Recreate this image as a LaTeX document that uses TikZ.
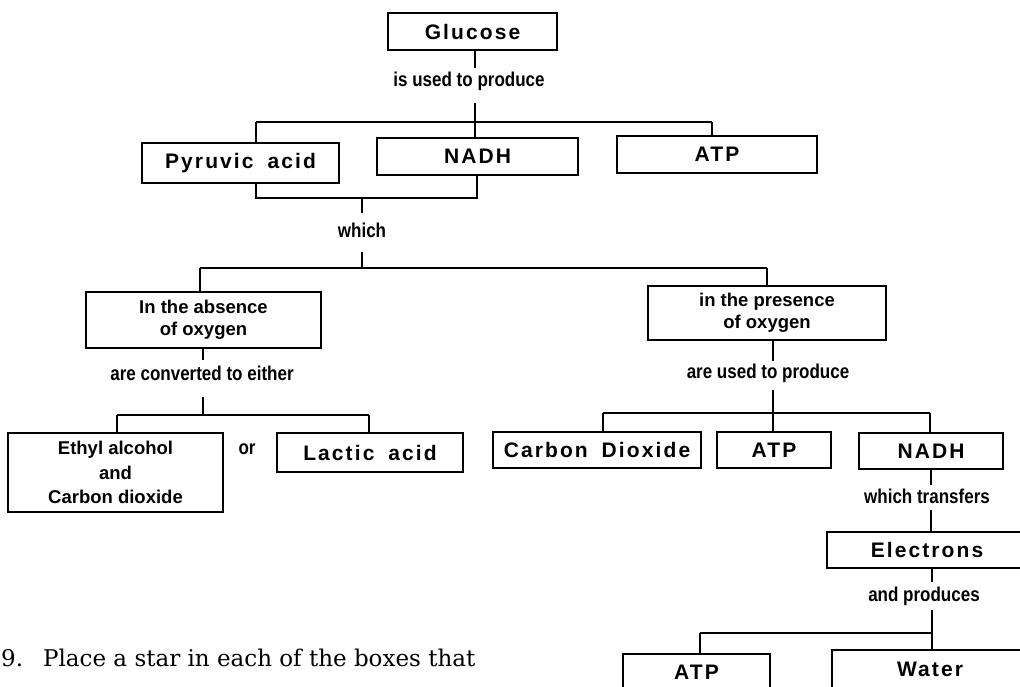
\documentclass[tikz,border=0pt]{standalone}
\usepackage{fontspec}
\setmainfont{Liberation Sans}
\newfontfamily\boxfam[LetterSpace=10]{Liberation Sans}
\newfontfamily\lblfam[FakeStretch=0.85]{Liberation Sans}
\newfontfamily\serfam{DejaVu Serif}
\begin{document}
\begin{tikzpicture}[x=1pt,y=-1pt,
  box/.style={draw, line width=1.4pt, inner sep=0pt, align=center,
    font=\boxfam\bfseries\fontsize{21}{23}\selectfont},
  tbox/.style={draw, line width=1.4pt, inner sep=0pt, align=center,
    font=\bfseries\fontsize{18.5}{22.5}\selectfont},
  lbl/.style={inner xsep=1pt, inner ysep=0pt, text height=14pt, text depth=4pt,
    anchor=base, font=\lblfam\bfseries\fontsize{20}{22}\selectfont},
  conn/.style={line width=1.4pt},
  qtext/.style={anchor=base west, inner sep=0pt, font=\serfam\fontsize{23}{26}\selectfont}
]
\useasboundingbox (0,0) rectangle (1020,686);

% ---- boxes ----
\node[box, minimum width=169pt, minimum height=37pt] (glucose) at (472.5,31.5) {Glucose};
\node[box, minimum width=197pt, minimum height=40pt] (pyr) at (240.5,163) {Pyruvic\hspace{6pt} acid};
\node[box, minimum width=201pt, minimum height=37pt] (nadh1) at (477.5,156.5) {NADH};
\node[box, minimum width=200pt, minimum height=37pt] (atp1) at (717,154.5) {ATP};
\node[tbox, minimum width=235pt, minimum height=56pt] (absent) at (203.5,320) {In the absence\\of oxygen};
\node[tbox, minimum width=238pt, minimum height=54pt] (present) at (767,313) {in the presence\\of oxygen};
\node[tbox, minimum width=215pt, minimum height=79pt, font=\bfseries\fontsize{18.5}{24.5}\selectfont] (ethyl) at (115.5,472.5) {Ethyl alcohol\\and\\Carbon dioxide};
\node[box, minimum width=186pt, minimum height=39pt] (lactic) at (370,452.5) {Lactic\hspace{6pt} acid};
\node[box, minimum width=208pt, minimum height=36pt] (co2) at (597,450) {Carbon\hspace{6pt} Dioxide};
\node[box, minimum width=114pt, minimum height=36pt] (atp2) at (774,450) {ATP};
\node[box, minimum width=144pt, minimum height=36pt] (nadh2) at (931,451) {NADH};
\node[box, minimum width=200pt, minimum height=36pt] (electrons) at (927,550) {Electrons};
\node[box, minimum width=147pt, minimum height=37pt] (atp3) at (696.5,672.5) {ATP};
\node[box, minimum width=196pt, minimum height=38pt] (water) at (930,669) {Water};

% ---- connector labels ----
\node[lbl] (l1) at (469,86) {is used to produce};
\node[lbl] (lw) at (362,237) {which};
\node[lbl] (la) at (202,380) {are converted to either};
\node[lbl] (lp) at (768,378) {are used to produce};
\node[lbl] (lor) at (247,454) {or};
\node[lbl] (lt) at (927,503) {which transfers};
\node[lbl] (lap) at (924,601) {and produces};

% ---- junction coordinates ----
\coordinate (v1) at (475,0);
\coordinate (h1L) at (256,122);
\coordinate (h1R) at (712,122);
\coordinate (b1L) at (256,198);
\coordinate (b1R) at (477,198);
\coordinate (w0) at (362,198);
\coordinate (h2M) at (362,268);
\coordinate (h2L) at (200,268);
\coordinate (h2R) at (767,268);
\coordinate (va) at (203,0);
\coordinate (h3M) at (203,415);
\coordinate (h3L) at (117,415);
\coordinate (h3R) at (369,415);
\coordinate (vp) at (773,0);
\coordinate (h4M) at (773,413);
\coordinate (h4L) at (603,413);
\coordinate (h4R) at (930,413);
\coordinate (vn) at (931,0);
\coordinate (h5M) at (932,633);
\coordinate (h5L) at (700,633);

% ---- connectors ----
\draw[conn, shorten >=4pt] (v1 |- glucose.south) -- (v1 |- l1.north);
\draw[conn, shorten <=13pt] (v1 |- l1.south) -- (v1 |- nadh1.north);
\draw[conn] (h1L) -- (h1R);
\draw[conn] (h1L) -- (h1L |- pyr.north);
\draw[conn] (h1R) -- (h1R |- atp1.north);

\draw[conn] (b1L |- pyr.south) -- (b1L) -- (b1R) -- (b1R |- nadh1.south);
\draw[conn, shorten >=10pt] (w0) -- (lw.north);
\draw[conn, shorten <=11pt] (lw.south) -- (h2M);
\draw[conn] (h2L) -- (h2R);
\draw[conn] (h2L) -- (h2L |- absent.north);
\draw[conn] (h2R) -- (h2R |- present.north);

\draw[conn, shorten >=6pt] (va |- absent.south) -- (va |- la.north);
\draw[conn, shorten <=13pt] (va |- la.south) -- (h3M);
\draw[conn] (h3L) -- (h3R);
\draw[conn] (h3L) -- (h3L |- ethyl.north);
\draw[conn] (h3R) -- (h3R |- lactic.north);

\draw[conn, shorten >=3pt] (vp |- present.south) -- (vp |- lp.north);
\draw[conn, shorten <=8pt] (vp |- lp.south) -- (h4M);
\draw[conn] (h4L) -- (h4R);
\draw[conn] (h4L) -- (h4L |- co2.north);
\draw[conn] (h4M) -- (h4M |- atp2.north);
\draw[conn] (h4R) -- (h4R |- nadh2.north);

\draw[conn, shorten >=4pt] (vn |- nadh2.south) -- (vn |- lt.north);
\draw[conn, shorten <=3pt] (vn |- lt.south) -- (vn |- electrons.north);
\draw[conn, shorten >=5pt] (h5M |- electrons.south) -- (h5M |- lap.north);
\draw[conn, shorten <=5pt] (h5M |- lap.south) -- (h5M);
\draw[conn] (h5L) -- (h5M);
\draw[conn] (h5L) -- (h5L |- atp3.north);
\draw[conn] (h5M) -- (h5M |- water.north);

% ---- question text ----
\node[qtext] (q9) at (1,666) {9.\hspace{20pt}Place a star in each of the boxes that};
\end{tikzpicture}
\end{document}
